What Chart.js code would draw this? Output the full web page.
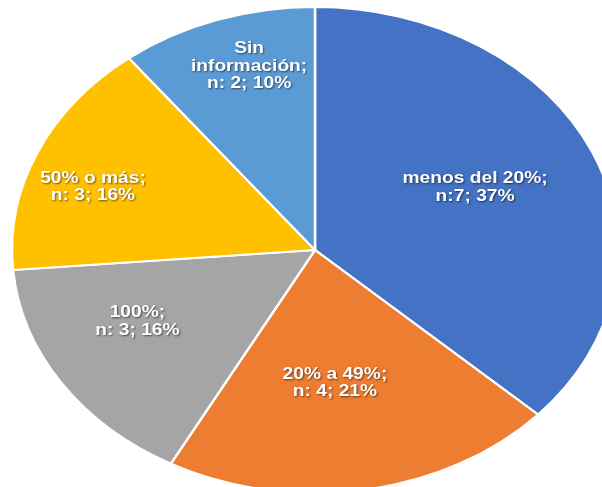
<!DOCTYPE html>
<html>
<head>
<meta charset="utf-8">
<script src="https://cdn.jsdelivr.net/npm/chart.js@4/dist/chart.umd.min.js"></script>
<style>
  html, body { margin: 0; padding: 0; background: #fff; }
  #wrap { width: 602px; height: 487px; position: relative; }
</style>
</head>
<body>
<div id="wrap"><canvas id="pieChart"></canvas></div>
<script>
// data
const categories = ['menos del 20%', '20% a 49%', '100%', '50% o más', 'Sin información'];
const counts = [7, 4, 3, 3, 2];
const percents = [37, 21, 16, 16, 10];
const labelTexts = [
    ['menos del 20%;', 'n:7; 37%'],
    ['20% a 49%;', 'n: 4; 21%'],
    ['100%;', 'n: 3; 16%'],
    ['50% o más;', 'n: 3; 16%'],
    ['Sin', 'información;', 'n: 2; 10%']
];
const colors = ['#4472C4', '#ED7D31', '#A5A5A5', '#FFC000', '#5B9BD5'];

// stretch the round pie into the ellipse of the original
const ellipsePlugin = {
    id: 'ellipse',
    beforeDatasetsDraw(chart, args, opts) {
        const arc = chart.getDatasetMeta(0).data[0];
        const ctx = chart.ctx;
        ctx.save();
        ctx.translate(opts.cx, opts.cy);
        ctx.scale(opts.rx / arc.outerRadius, opts.ry / arc.outerRadius);
        ctx.translate(-arc.x, -arc.y);
    },
    afterDatasetsDraw(chart) {
        chart.ctx.restore();
    }
};

// white data labels with a soft shadow, placed inside each slice
const labelPlugin = {
    id: 'sliceLabels',
    afterDraw(chart, args, opts) {
        const ctx = chart.ctx;
        const el = chart.options.plugins.ellipse;
        const arcs = chart.getDatasetMeta(0).data;
        arcs.forEach((arc, i) => {
            const mid = (arc.startAngle + arc.endAngle) / 2;
            const f = opts.place[i];
            const x = el.cx + Math.cos(mid) * el.rx * f[0];
            const y = el.cy + Math.sin(mid) * el.ry * f[1];
            const lines = labelTexts[i];
            ctx.save();
            ctx.font = 'bold 17px "Liberation Sans", Arial, sans-serif';
            ctx.fillStyle = '#fff';
            ctx.textAlign = 'center';
            ctx.textBaseline = 'middle';
            ctx.shadowColor = 'rgba(0,0,0,0.55)';
            ctx.shadowOffsetX = 1;
            ctx.shadowOffsetY = 1;
            ctx.shadowBlur = 2;
            ctx.translate(x, y);
            ctx.scale(1.13, 1);
            lines.forEach((t, k) => {
                const dy = (k - (lines.length - 1) / 2) * 17.5;
                ctx.fillText(t, 0, dy);
            });
            ctx.restore();
        });
    }
};

const ctx = document.getElementById('pieChart').getContext('2d');
const pieChart = new Chart(ctx, {
    type: 'pie',
    data: {
        labels: categories,
        datasets: [{
            data: counts,
            backgroundColor: colors,
            borderColor: '#ffffff',
            borderWidth: 2,
            hoverOffset: 0
        }]
    },
    options: {
        responsive: true,
        maintainAspectRatio: false,
        animation: false,
        events: [],
        plugins: {
            legend: { display: false },
            tooltip: { enabled: false },
            ellipse: { cx: 315, cy: 250, rx: 303, ry: 243 },
            sliceLabels: {
                place: [[0.577, 0.64], [0.4, 0.555], [0.70, 0.537], [0.80, 0.645], [0.67, 0.80]]
            }
        }
    },
    plugins: [ellipsePlugin, labelPlugin]
});
</script>
</body>
</html>
